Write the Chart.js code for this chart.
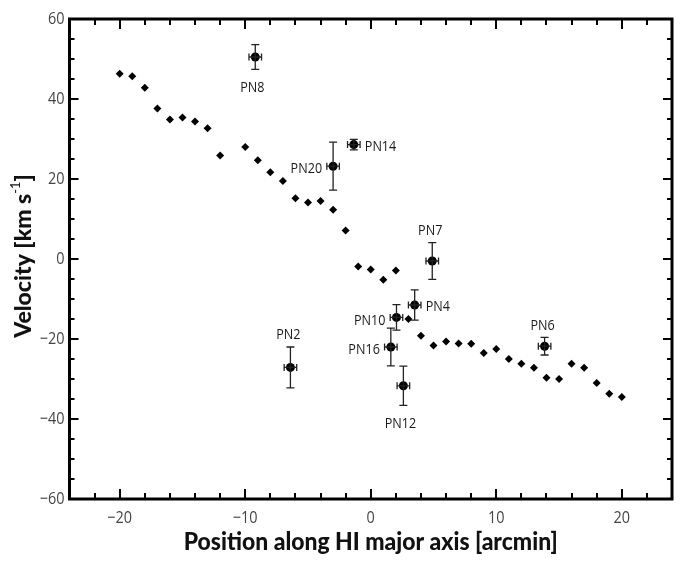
<!DOCTYPE html>
<html>
<head>
<meta charset="utf-8">
<script src="https://cdn.jsdelivr.net/npm/chart.js@4.4.1/dist/chart.umd.min.js"></script>
<style>
  html, body { margin: 0; padding: 0; background: #fff; }
  #wrap { width: 681px; height: 562px; }
</style>
</head>
<body>
<div id="wrap"><canvas id="rc" width="681" height="562"></canvas></div>
<script>
// HI rotation curve (position in arcmin, velocity in km/s)
const hiPos = [-20, -19, -18, -17, -16, -15, -14, -13, -12, -10, -9, -8, -7, -6, -5, -4, -3, -2,
               -1, 0, 1, 2, 3, 4, 5, 6, 7, 8, 9, 10, 11, 12, 13, 14, 15, 16, 17, 18, 19, 20];
const hiVel = [46.3, 45.7, 42.8, 37.6, 34.9, 35.4, 34.4, 32.7, 25.9, 28.0, 24.7, 21.7, 19.5, 15.2, 14.1, 14.5, 12.3, 7.1,
               -1.9, -2.6, -5.2, -2.9, -15.0, -19.2, -21.6, -20.6, -21.1, -21.2, -23.5, -22.5, -25.0, -26.2, -27.2, -29.7, -30.0, -26.2, -27.2, -31.0, -33.7, -34.5];

// planetary nebulae
const pnNames = ["PN8", "PN20", "PN14", "PN7", "PN4", "PN10", "PN16", "PN12", "PN6", "PN2"];
const pnPos   = [-9.2, -3.0, -1.35, 4.9, 3.5, 2.05, 1.6, 2.6, 13.85, -6.4];
const pnVel   = [50.5, 23.2, 28.6, -0.5, -11.5, -14.6, -22.0, -31.7, -21.8, -27.1];
const pnVelErr = [3.1, 6.0, 1.3, 4.6, 3.8, 3.2, 4.7, 4.9, 2.2, 5.1];
const pnPosErr = [0.5, 0.5, 0.5, 0.5, 0.5, 0.5, 0.5, 0.5, 0.5, 0.5];
const pnLabelSide = ["below", "left", "right", "above", "right", "left", "left", "below", "above", "above"];

const xTicks = [-20, -10, 0, 10, 20];
const yTicks = [-60, -40, -20, 0, 20, 40, 60];

const tickFont = '17px "Open Sans", sans-serif';
const pnFont = '15px "Open Sans", sans-serif';

// narrow text: squeeze the glyphs a bit, the original uses a condensed face
function narrowText(c, s, x, y, k) {
    c.fillText(s, x, y, c.measureText(s).width * k);
}

const frame = {
    id: "frame",
    afterDatasetsDraw(chart) {
        const c = chart.ctx, xs = chart.scales.x, ys = chart.scales.y;
        const a = chart.chartArea;
        c.save();
        // error bars
        c.strokeStyle = "#222";
        c.lineWidth = 1.3;
        pnPos.forEach((p, i) => {
            const px = xs.getPixelForValue(p);
            const py = ys.getPixelForValue(pnVel[i]);
            const y1 = ys.getPixelForValue(pnVel[i] + pnVelErr[i]);
            const y2 = ys.getPixelForValue(pnVel[i] - pnVelErr[i]);
            const x1 = xs.getPixelForValue(p - pnPosErr[i]);
            const x2 = xs.getPixelForValue(p + pnPosErr[i]);
            c.beginPath();
            c.moveTo(px, y1); c.lineTo(px, y2);
            c.moveTo(px - 4, y1); c.lineTo(px + 4, y1);
            c.moveTo(px - 4, y2); c.lineTo(px + 4, y2);
            c.moveTo(x1, py); c.lineTo(x2, py);
            c.moveTo(x1, py - 3.5); c.lineTo(x1, py + 3.5);
            c.moveTo(x2, py - 3.5); c.lineTo(x2, py + 3.5);
            c.stroke();
        });
        // labels
        c.fillStyle = "#1a1a1a";
        c.font = pnFont;
        pnNames.forEach((n, i) => {
            const px = xs.getPixelForValue(pnPos[i]);
            const py = ys.getPixelForValue(pnVel[i]);
            const side = pnLabelSide[i];
            c.textBaseline = "middle";
            if (side === "below") {
                c.textAlign = "center";
                narrowText(c, n, px - 3, ys.getPixelForValue(pnVel[i] - pnVelErr[i]) + 18, 0.84);
            } else if (side === "above") {
                c.textAlign = "center";
                narrowText(c, n, px - 2, ys.getPixelForValue(pnVel[i] + pnVelErr[i]) - 12, 0.84);
            } else if (side === "left") {
                c.textAlign = "right";
                narrowText(c, n, px - 11, py + 3, 0.84);
            } else {
                c.textAlign = "left";
                narrowText(c, n, px + 11, py + 2, 0.84);
            }
        });
        // inward ticks on all sides
        c.strokeStyle = "#000";
        c.lineWidth = 2;
        c.beginPath();
        for (let v = -22; v <= 22; v += 2) {
            const len = v % 10 === 0 ? 10 : 6;
            const px = Math.round(xs.getPixelForValue(v));
            c.moveTo(px, a.bottom); c.lineTo(px, a.bottom - len);
            c.moveTo(px, a.top); c.lineTo(px, a.top + len);
        }
        for (let v = -55; v <= 55; v += 5) {
            const len = v % 20 === 0 ? 9 : 5;
            const py = Math.round(ys.getPixelForValue(v));
            c.moveTo(a.left, py); c.lineTo(a.left + len, py);
            c.moveTo(a.right, py); c.lineTo(a.right - len, py);
        }
        c.stroke();
        c.lineWidth = 3;
        c.strokeRect(a.left, a.top, a.right - a.left, a.bottom - a.top);
        // tick labels
        c.fillStyle = "#444";
        c.font = tickFont;
        c.textAlign = "center";
        c.textBaseline = "middle";
        xTicks.forEach(v => {
            narrowText(c, v < 0 ? "\u2212" + (-v) : String(v), xs.getPixelForValue(v), a.bottom + 19, 0.85);
        });
        c.textAlign = "right";
        yTicks.forEach(v => {
            narrowText(c, v < 0 ? "\u2212" + (-v) : String(v), a.left - 5, ys.getPixelForValue(v), 0.85);
        });
        // axis titles
        c.fillStyle = "#111";
        c.font = '900 24px "Lato", "Open Sans", sans-serif';
        c.textAlign = "center";
        c.textBaseline = "middle";
        c.fillText("Position along HI major axis [arcmin]", (a.left + a.right) / 2, 542, 374);
        c.translate(24, 256);
        c.rotate(-Math.PI / 2);
        const main = "Velocity [km s";
        c.font = '900 23px "Lato", "Open Sans", sans-serif';
        const w1 = c.measureText(main).width;
        c.font = '13px "Lato", "Open Sans", sans-serif';
        const w2 = c.measureText("-1").width;
        c.font = '900 23px "Lato", "Open Sans", sans-serif';
        const w3 = c.measureText("]").width;
        let x0 = -(w1 + w2 + w3) / 2;
        c.textAlign = "left";
        c.fillText(main, x0, 0);
        c.font = '13px "Lato", "Open Sans", sans-serif';
        c.fillText("-1", x0 + w1, -8);
        c.font = '900 23px "Lato", "Open Sans", sans-serif';
        c.fillText("]", x0 + w1 + w2, 0);
        c.restore();
    }
};

new Chart(document.getElementById("rc"), {
    type: "scatter",
    data: {
        datasets: [
            {
                label: "HI",
                data: hiPos.map((p, i) => ({ x: p, y: hiVel[i] })),
                pointStyle: "rectRot",
                pointRadius: 4,
                backgroundColor: "#000",
                borderColor: "#000",
                borderWidth: 0
            },
            {
                label: "PN",
                data: pnPos.map((p, i) => ({ x: p, y: pnVel[i] })),
                pointStyle: "circle",
                pointRadius: 4.5,
                backgroundColor: "#000",
                borderColor: "#000",
                borderWidth: 0
            }
        ]
    },
    options: {
        responsive: false,
        animation: false,
        layout: { padding: { left: 0, right: 9, top: 19, bottom: 0 } },
        plugins: { legend: { display: false }, tooltip: { enabled: false } },
        scales: {
            x: {
                type: "linear", min: -24, max: 24,
                grid: { display: false, drawTicks: false },
                border: { display: false },
                ticks: { display: false },
                afterFit: s => { s.height = 63; }
            },
            y: {
                type: "linear", min: -60, max: 60,
                grid: { display: false, drawTicks: false },
                border: { display: false },
                ticks: { display: false },
                afterFit: s => { s.width = 69.5; }
            }
        }
    },
    plugins: [frame]
});
</script>
</body>
</html>
